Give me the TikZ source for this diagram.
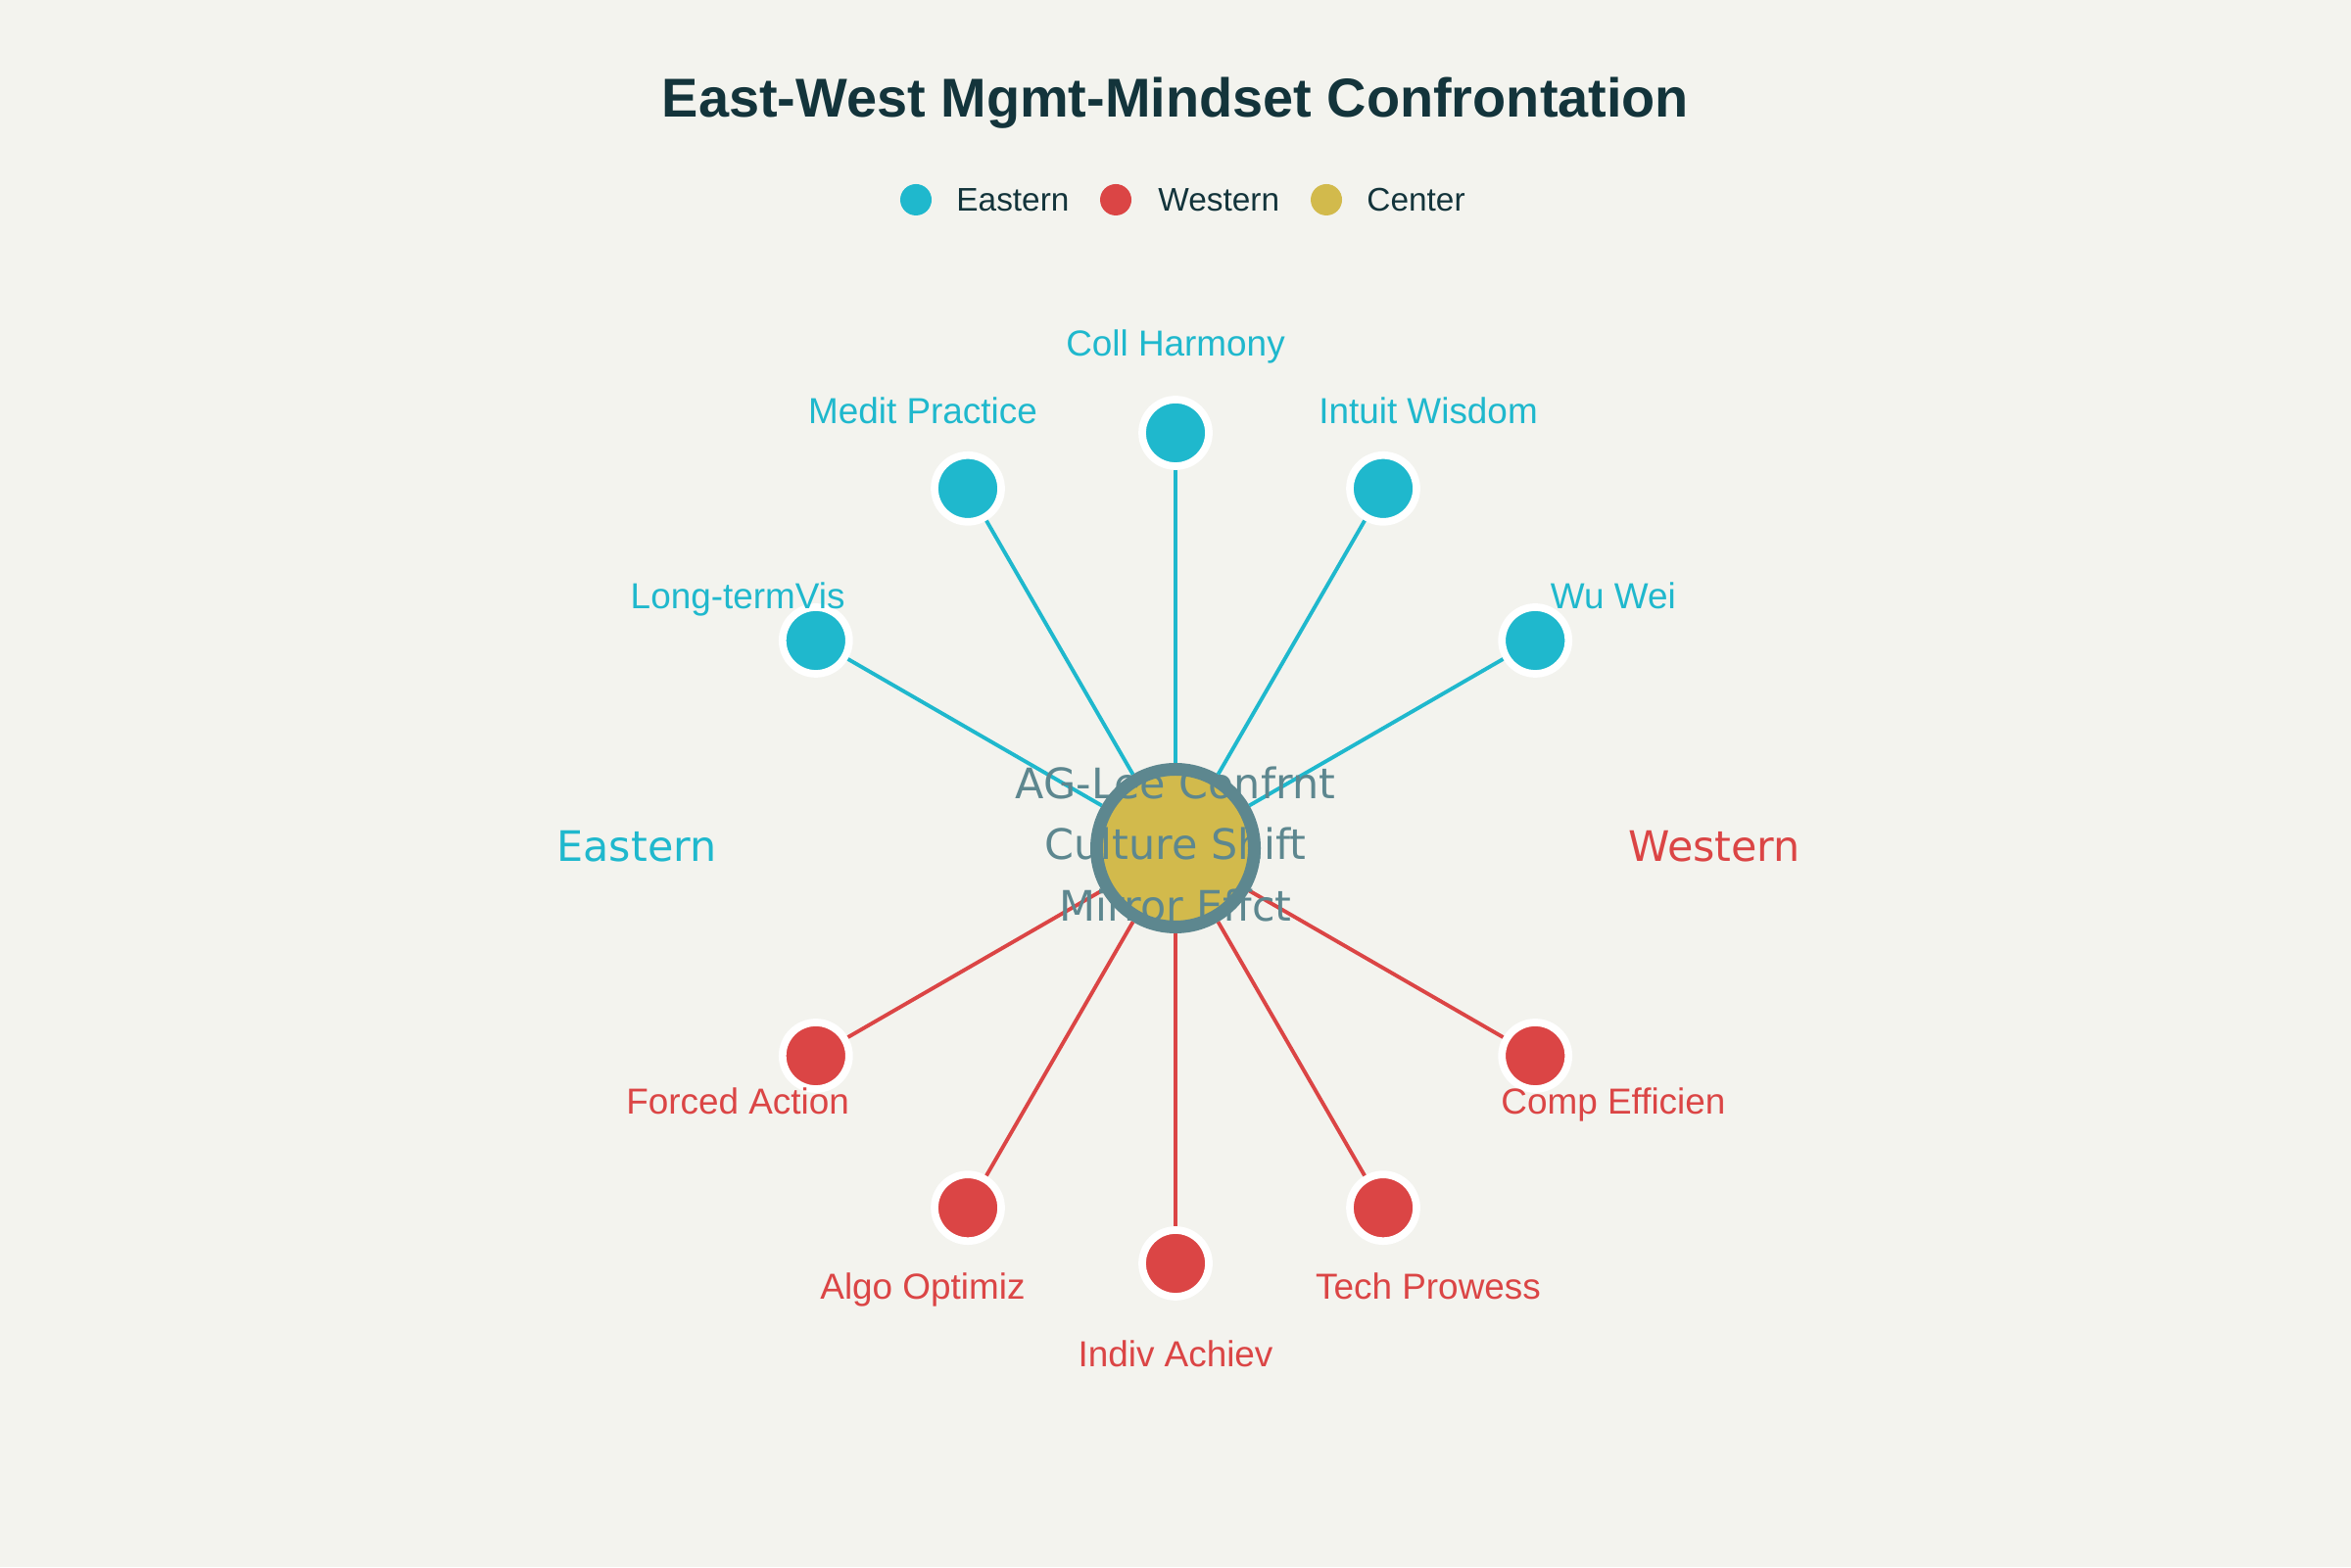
\documentclass[tikz,border=0pt]{standalone}
\usepackage{fontspec}
\setmainfont{Liberation Sans}
\newfontfamily\dejavu{DejaVu Sans}
\usetikzlibrary{calc,positioning}

\definecolor{bgcol}{HTML}{F3F3EE}
\definecolor{eastcol}{HTML}{1FB8CD}
\definecolor{westcol}{HTML}{DB4545}
\definecolor{goldcol}{HTML}{D2BA4C}
\definecolor{slatecol}{HTML}{5D878F}
\definecolor{titlecol}{HTML}{13343B}

\tikzset{
	dot/.style={circle, minimum size=0.68cm, inner sep=0pt, draw=white, line width=2.2pt},
	eastdot/.style={dot, fill=eastcol},
	westdot/.style={dot, fill=westcol},
	hubdot/.style={circle, minimum size=1.61cm, inner sep=0pt, draw=slatecol, line width=3.7pt, fill=goldcol},
	spoke/.style={line width=1.1pt},
	lbl/.style={inner sep=0pt, text height=0.265cm, text depth=0pt, font=\fontsize{10.5pt}{12pt}\selectfont},
	legdot/.style={circle, minimum size=0.32cm, inner sep=0pt},
	legtext/.style={inner sep=0pt, text height=0.23cm, text depth=0pt, text=titlecol, font=\fontsize{9.5pt}{11pt}\selectfont},
	sidetext/.style={inner sep=0pt, text height=0.33cm, text depth=0pt, font=\dejavu\fontsize{12.2pt}{17.9pt}\selectfont}
}

\begin{document}
\begin{tikzpicture}
			%%%%% START %%%%%
			
			\useasboundingbox (0, 0) rectangle (24, 16);
			\fill[bgcol] (0, 0) rectangle (24, 16);
			
			%%%%% TITLE AND LEGEND %%%%%
			\node[inner sep=0pt, text height=0.43cm, text depth=0pt, text=titlecol, font=\bfseries\fontsize{15.9pt}{18pt}\selectfont] (title) at (12, 15.02) {East-West Mgmt-Mindset Confrontation};
			
			\node[legdot, fill=eastcol] (legE) at (9.35, 13.96) {};
			\node[legtext, right=0.24cm of legE] (legEt) {Eastern};
			\node[legdot, fill=westcol] (legW) at (11.39, 13.96) {};
			\node[legtext, right=0.26cm of legW] (legWt) {Western};
			\node[legdot, fill=goldcol] (legC) at (13.54, 13.96) {};
			\node[legtext, right=0.24cm of legC] (legCt) {Center};
			
			%%%%% HUB %%%%%
			\node[hubdot] (hub) at (12, 7.34) {};
			
			%%%%% EASTERN %%%%%
			\node[eastdot] (coll) at ($(hub)+(90:4.24)$) {};
			\node[eastdot] (medit) at ($(hub)+(120:4.24)$) {};
			\node[eastdot] (intuit) at ($(hub)+(60:4.24)$) {};
			\node[eastdot] (longterm) at ($(hub)+(150:4.24)$) {};
			\node[eastdot] (wuwei) at ($(hub)+(30:4.24)$) {};
			
			\node[lbl, text=eastcol] (collL) at ($(hub)+(90:5.16)$) {Coll Harmony};
			\node[lbl, text=eastcol] (meditL) at ($(hub)+(120:5.16)$) {Medit Practice};
			\node[lbl, text=eastcol] (intuitL) at ($(hub)+(60:5.16)$) {Intuit Wisdom};
			\node[lbl, text=eastcol] (longtermL) at ($(hub)+(150:5.16)$) {Long-termVis};
			\node[lbl, text=eastcol] (wuweiL) at ($(hub)+(30:5.16)$) {Wu Wei};
			
			%%%%% WESTERN %%%%%
			\node[westdot] (indiv) at ($(hub)+(-90:4.24)$) {};
			\node[westdot] (algo) at ($(hub)+(-120:4.24)$) {};
			\node[westdot] (tech) at ($(hub)+(-60:4.24)$) {};
			\node[westdot] (forced) at ($(hub)+(-150:4.24)$) {};
			\node[westdot] (comp) at ($(hub)+(-30:4.24)$) {};
			
			\node[lbl, text=westcol] (indivL) at ($(hub)+(-90:5.16)$) {Indiv Achiev};
			\node[lbl, text=westcol] (algoL) at ($(hub)+(-120:5.16)$) {Algo Optimiz};
			\node[lbl, text=westcol] (techL) at ($(hub)+(-60:5.16)$) {Tech Prowess};
			\node[lbl, text=westcol] (forcedL) at ($(hub)+(-150:5.16)$) {Forced Action};
			\node[lbl, text=westcol] (compL) at ($(hub)+(-30:5.16)$) {Comp Efficien};
			
			%%%%% SPOKES %%%%%
			\draw[spoke, eastcol] (hub) -- (coll);
			\draw[spoke, eastcol] (hub) -- (medit);
			\draw[spoke, eastcol] (hub) -- (intuit);
			\draw[spoke, eastcol] (hub) -- (longterm);
			\draw[spoke, eastcol] (hub) -- (wuwei);
			
			\draw[spoke, westcol] (hub) -- (indiv);
			\draw[spoke, westcol] (hub) -- (algo);
			\draw[spoke, westcol] (hub) -- (tech);
			\draw[spoke, westcol] (hub) -- (forced);
			\draw[spoke, westcol] (hub) -- (comp);
			
			%%%%% SIDE TEXTS %%%%%
			\node[sidetext, text=eastcol] (eastL) at (6.5, 7.37) {Eastern};
			\node[sidetext, text=westcol] (westL) at (17.5, 7.37) {Western};
			
			\node[inner sep=0pt, align=center, text=slatecol, font=\dejavu\fontsize{12.2pt}{17.9pt}\selectfont] (hubL) at ($(hub)+(0, 0.04)$) {AG-Lee Confrnt\\Culture Shift\\Mirror Effct};
			
			%%%%% END %%%%%
		\end{tikzpicture}
\end{document}
